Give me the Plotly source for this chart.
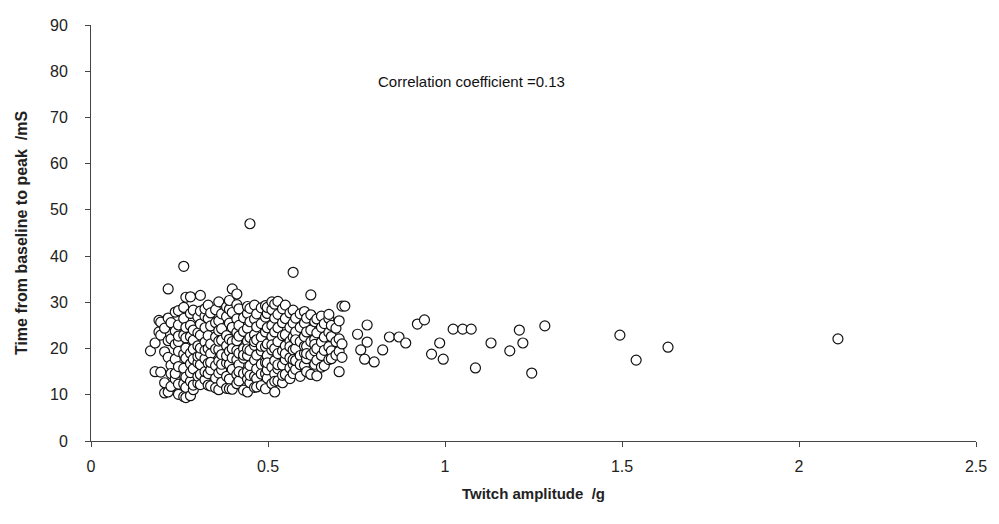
import plotly.graph_objects as go

# ---- data ----
# main cluster: x positions and, for each, the y values seen near that x
cluster_x = [0.168, 0.181, 0.192, 0.197, 0.208, 0.218, 0.226, 0.238, 0.247, 0.262,
             0.268, 0.281, 0.289, 0.302, 0.309, 0.322, 0.331, 0.338, 0.352, 0.361,
             0.369, 0.383, 0.391, 0.399, 0.412, 0.418, 0.431, 0.442, 0.449, 0.462,
             0.468, 0.481, 0.493, 0.498, 0.511, 0.519, 0.528, 0.541, 0.549, 0.562,
             0.571, 0.578, 0.591, 0.603, 0.609, 0.621, 0.632, 0.638, 0.651, 0.659,
             0.672, 0.679, 0.692, 0.701, 0.709]
cluster_y = [
    [19.5],
    [15.0, 21.2],
    [26.1, 23.6],
    [14.9, 22.9, 25.7],
    [10.4, 12.6, 19.3, 24.4],
    [32.9, 10.6, 18.1, 21.7, 26.6],
    [11.8, 16.4, 22.1, 25.6, 14.6],
    [13.4, 14.6, 17.7, 20.9, 23.8, 27.9],
    [10.1, 12.3, 16.1, 21.5, 22.7, 25.1, 28.2, 19.4],
    [37.8, 9.6, 15.7, 18.8, 22.9, 26.5, 28.9, 12.4],
    [9.4, 11.6, 13.8, 17.9, 20.1, 24.6, 31.1, 22.3],
    [9.8, 12.9, 16.7, 19.0, 22.6, 25.0, 31.2, 27.6, 14.8],
    [11.1, 12.1, 15.6, 17.7, 21.8, 24.0, 28.3, 19.9],
    [12.5, 14.0, 16.9, 20.6, 23.4, 26.8, 18.3],
    [12.2, 16.5, 18.6, 22.9, 25.3, 28.1, 31.5, 14.4, 20.1],
    [13.3, 15.0, 17.8, 21.4, 24.5, 27.0, 28.6, 19.6],
    [14.6, 16.8, 20.0, 22.8, 26.5, 29.4, 12.1],
    [11.9, 15.4, 18.9, 21.0, 24.9, 27.7, 17.0],
    [13.6, 16.3, 19.9, 22.5, 25.6, 28.4, 11.5],
    [11.1, 14.7, 17.3, 19.8, 23.9, 26.0, 30.1, 21.6],
    [12.7, 15.4, 18.7, 21.8, 24.3, 27.5, 16.6],
    [11.4, 14.0, 16.9, 20.6, 22.8, 26.9, 29.0, 18.4],
    [13.4, 16.6, 19.4, 22.0, 25.5, 28.5, 30.4, 11.3],
    [11.2, 15.5, 18.0, 21.5, 24.6, 27.8, 32.9, 20.0],
    [12.4, 14.4, 17.6, 19.6, 23.5, 26.4, 29.5, 31.8, 21.7],
    [13.0, 16.5, 19.0, 22.7, 25.0, 28.6, 15.0],
    [11.0, 14.6, 17.9, 20.0, 23.7, 26.7, 18.6],
    [10.6, 13.4, 15.0, 18.5, 21.6, 24.4, 27.6, 29.1, 19.9],
    [47.0, 12.6, 16.3, 19.6, 22.4, 25.8, 28.7, 14.2],
    [11.6, 14.0, 17.5, 20.7, 23.0, 26.4, 29.4, 21.5],
    [13.5, 15.6, 18.6, 21.9, 24.7, 27.5, 11.7],
    [12.0, 16.6, 19.5, 22.5, 25.4, 28.8, 14.5, 20.5],
    [11.3, 14.6, 17.0, 20.4, 23.6, 26.8, 29.3],
    [13.6, 15.4, 18.5, 21.0, 24.5, 27.6, 28.9, 16.9],
    [12.4, 16.0, 19.7, 22.6, 25.0, 28.4, 30.1, 20.8],
    [10.6, 14.5, 17.4, 20.0, 23.6, 26.6, 29.6, 12.9],
    [13.0, 15.6, 18.9, 21.5, 24.5, 27.4, 30.2, 16.5],
    [12.6, 16.4, 19.5, 22.8, 25.6, 28.6, 14.2],
    [14.4, 17.6, 20.6, 23.0, 26.5, 29.4, 18.9],
    [13.5, 15.8, 18.0, 21.6, 24.6, 27.7, 20.4],
    [36.5, 14.6, 16.6, 19.7, 22.5, 25.5, 28.3, 17.6],
    [15.5, 17.4, 20.0, 23.6, 26.6, 21.9],
    [14.0, 18.5, 21.5, 24.6, 27.5, 16.5],
    [16.4, 19.0, 22.6, 25.5, 28.0, 20.5],
    [15.0, 17.8, 20.5, 23.6, 26.6, 18.9],
    [31.6, 14.4, 18.6, 21.5, 24.0, 27.3],
    [16.6, 19.5, 22.0, 25.8, 20.9],
    [14.1, 17.5, 20.0, 23.4, 26.4],
    [18.5, 21.4, 24.6, 27.0, 16.0],
    [16.3, 19.6, 22.5, 25.4],
    [17.6, 20.4, 23.5, 26.5, 27.4],
    [19.5, 22.6, 25.0, 17.8],
    [18.6, 21.5, 24.4],
    [15.0, 19.4, 22.1, 26.0],
    [18.1, 29.2, 21.0],
]

# sparse points to the right of the cluster
tail_x = [0.717, 0.78, 0.753, 0.78, 0.762, 0.773, 0.80, 0.824, 0.843, 0.87,
          0.889, 0.922, 0.942, 0.962, 0.985, 0.995, 1.023, 1.05, 1.074, 1.086,
          1.13, 1.183, 1.21, 1.22, 1.245, 1.282, 1.494, 1.54, 1.63, 2.11]
tail_y = [29.2, 25.1, 23.1, 21.4, 19.7, 17.7, 17.1, 19.7, 22.5, 22.5,
          21.2, 25.3, 26.2, 18.8, 21.2, 17.7, 24.2, 24.2, 24.2, 15.8,
          21.2, 19.5, 24.0, 21.2, 14.7, 24.9, 22.9, 17.5, 20.3, 22.1]

x_ticks = [0, 0.5, 1, 1.5, 2, 2.5]
x_tick_text = ["0", "0.5", "1", "1.5", "2", "2.5"]
y_ticks = [0, 10, 20, 30, 40, 50, 60, 70, 80, 90]
note_text = "Correlation coefficient =0.13"

# ---- build ----
amplitude = []
time_to_peak = []
for cx, ys in zip(cluster_x, cluster_y):
    for yv in ys:
        amplitude.append(cx)
        time_to_peak.append(yv)
amplitude += tail_x
time_to_peak += tail_y

fig = go.Figure()
fig.add_trace(go.Scatter(
    x=amplitude, y=time_to_peak, mode="markers",
    marker=dict(symbol="circle", size=10, color="white",
                line=dict(color="#111111", width=1.2)),
    cliponaxis=False, showlegend=False, hoverinfo="x+y",
))

font_family = "Liberation Sans, Arial, sans-serif"
fig.update_layout(
    width=999, height=524,
    margin=dict(l=91, r=19, t=25, b=83),
    paper_bgcolor="white", plot_bgcolor="white",
    font=dict(family=font_family, color="#222222", size=15),
    xaxis=dict(
        range=[0, 2.5], tickmode="array", tickvals=x_ticks, ticktext=x_tick_text,
        showgrid=False, zeroline=False, showline=True, linecolor="#444444", linewidth=1,
        ticks="outside", ticklen=5, tickcolor="#444444", tickwidth=1,
        ticklabelstandoff=6,
        tickfont=dict(size=16, color="#222222"),
        title=dict(text="<b>Twitch amplitude\u00a0\u00a0/g</b>", standoff=14,
                   font=dict(size=15, color="#222222")),
    ),
    yaxis=dict(
        range=[0, 90], tickmode="array", tickvals=y_ticks,
        showgrid=False, zeroline=False, showline=True, linecolor="#444444", linewidth=1,
        ticks="outside", ticklen=5, tickcolor="#444444", tickwidth=1,
        ticklabelstandoff=14,
        tickfont=dict(size=16, color="#222222"),
        title=dict(text="<b>Time from baseline to peak\u00a0\u00a0/mS</b>", standoff=18,
                   font=dict(size=16, color="#222222")),
    ),
    annotations=[dict(
        x=1.074, y=77.7, xref="x", yref="y", text=note_text, showarrow=False,
        font=dict(size=15, color="#111111", family=font_family),
    )],
)

fig.write_html("out.html")
